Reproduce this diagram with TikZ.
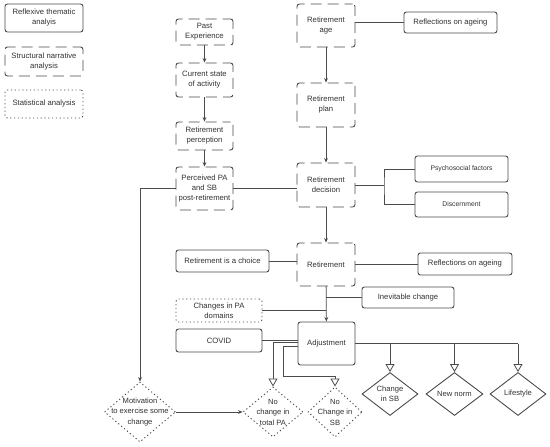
\documentclass[tikz,border=0pt]{standalone}
\usepackage{fontspec}
\setmainfont{Liberation Sans}
\usetikzlibrary{arrows.meta,shapes.geometric}
\definecolor{lc}{RGB}{75,75,75}
\definecolor{tc}{RGB}{50,50,50}
\tikzset{
  basebox/.style={draw=lc, line width=0.9pt, rounded corners=2.5pt, inner sep=1pt, align=center,
    text=tc, font=\fontsize{7.7}{10}\selectfont},
  solidbox/.style={basebox},
  dashbox/.style={basebox, dash pattern=on 11pt off 6pt, dash phase=3pt},
  dotbox/.style={basebox, dash pattern=on 1.2pt off 2.6pt},
  smallbox/.style={basebox, font=\fontsize{6.8}{9}\selectfont},
  basediamond/.style={shape=diamond, draw=lc, line width=0.9pt, inner sep=0pt, text=tc, align=center,
    font=\fontsize{7.6}{10.5}\selectfont},
  soliddiamond/.style={basediamond},
  dotdiamond/.style={basediamond, dash pattern=on 1.2pt off 2.6pt},
  dtext/.style={text=tc, align=center, inner sep=0pt, font=\fontsize{7.6}{10.5}\selectfont},
  conn/.style={draw=lc, line width=0.8pt},
  arr/.style={conn, -{Stealth[length=4.5pt,width=3.8pt]}},
  tri/.style={conn, -{Triangle[open,length=8pt,width=9pt,fill=white]}},
}
\begin{document}
\begin{tikzpicture}[x=1pt,y=-1pt]
\useasboundingbox (0,0) rectangle (550,447);
\fill[white] (0,0) rectangle (550,447);
% legend
\node[solidbox, minimum width=78, minimum height=28] (lg1) at (44,18) {Reflexive thematic\\analyis};
\node[dashbox, minimum width=78, minimum height=29] (lg2) at (44,61.5) {Structural narrative\\analysis};
\node[dotbox, minimum width=78, minimum height=28] (lg3) at (44,104) {Statistical analysis};
% column 1
\node[dashbox, minimum width=57, minimum height=26] (past) at (204.5,32) {Past\\Experience};
\node[dashbox, minimum width=57, minimum height=34] (current) at (204.5,80) {Current state\\of activity};
\node[dashbox, minimum width=57, minimum height=28] (percep) at (204.5,136) {Retirement\\perception};
\node[dashbox, minimum width=57, minimum height=43] (perceived) at (204.5,188.5) {Perceived PA\\and SB\\post-retirement};
% column 2
\node[dashbox, minimum width=58, minimum height=43] (retage) at (326,25.5) {Retirement\\age};
\node[dashbox, minimum width=58, minimum height=44] (retplan) at (326,105) {Retirement\\plan};
\node[dashbox, minimum width=58, minimum height=44] (retdec) at (326,185) {Retirement\\decision};
\node[dashbox, minimum width=58, minimum height=43] (retire) at (326,264.5) {Retirement};
\node[solidbox, minimum width=57, minimum height=43] (adjust) at (326.5,343.5) {Adjustment};
% side boxes
\node[solidbox, minimum width=93, minimum height=21] (refla) at (450.5,22.5) {Reflections on ageing};
\node[smallbox, minimum width=93, minimum height=26] (psycho) at (461.5,169) {Psychosocial factors};
\node[smallbox, minimum width=93, minimum height=25] (discern) at (461.5,204.5) {Discernment};
\node[solidbox, minimum width=93, minimum height=22] (choice) at (222.5,261) {Retirement is a choice};
\node[solidbox, minimum width=94, minimum height=22] (reflb) at (465,264) {Reflections on ageing};
\node[solidbox, minimum width=92, minimum height=21] (inevit) at (408,297.5) {Inevitable change};
\node[dotbox, minimum width=86, minimum height=23] (chpa) at (219,310.5) {Changes in PA\\domains};
\node[solidbox, minimum width=86, minimum height=23] (covid) at (219,340.5) {COVID};
% diamonds
\node[dotdiamond, minimum width=71, minimum height=60] (motiv) at (140,412) {};
\node[dtext] (motivt) at (motiv.center) {Motivation\\to exercise some\\change};
\node[dotdiamond, minimum width=60, minimum height=50] (ncpa) at (273,412) {};
\node[dtext] (ncpat) at (ncpa.center) {No\\change in\\total PA};
\node[dotdiamond, minimum width=54, minimum height=50] (ncsb) at (335,412) {};
\node[dtext] (ncsbt) at (ncsb.center) {No\\Change in\\SB};
\node[soliddiamond, minimum width=56, minimum height=43] (chsb) at (390,394) {};
\node[dtext] (chsbt) at (chsb.center) {Change\\in SB};
\node[soliddiamond, minimum width=57, minimum height=43] (newnorm) at (454.5,394) {};
\node[dtext] (newnormt) at (newnorm.center) {New norm};
\node[soliddiamond, minimum width=56, minimum height=43] (life) at (518,394) {};
\node[dtext] (lifet) at (life.center) {Lifestyle};
% connectors column 1
\draw[arr] (past) -- (current);
\draw[arr] (current) -- (percep);
\draw[arr] (percep) -- (perceived);
\draw[arr] (perceived.west) -| (motiv.north);
\draw[conn] (perceived.east) -- (perceived.east -| retdec.west);
% column 2
\draw[arr] (retage) -- (retplan);
\draw[arr] (retplan) -- (retdec);
\draw[arr] (retdec) -- (retire);
\draw[arr] (retire) -- (adjust);
\draw[conn] (refla.west) -- (refla.west -| retage.east);
\coordinate (br) at (384,185);
\draw[conn] (retdec.east) -- (br);
\draw[conn] (psycho.west) -| (br) |- (discern.west);
\draw[conn] (choice.east) -- (choice.east -| retire.west);
\draw[conn] (retire.east |- reflb.west) -- (reflb.west);
\draw[conn] (inevit.west) -- (inevit.west -| retire.south);
\draw[conn] (chpa.east) -- (chpa.east -| retire.south);
\draw[conn] (covid.east) -- (covid.east -| adjust.west);
% adjustment branches
\draw[conn] (adjust.east) -- (adjust.east -| life.north);
\draw[tri] (adjust.east -| chsb.north) -- (chsb.north);
\draw[tri] (adjust.east -| newnorm.north) -- (newnorm.north);
\draw[tri] (adjust.east -| life.north) -- (life.north);
\draw[tri] ([yshift=1.5pt]adjust.west) -| (ncpa.north);
\coordinate (bend) at (283,376);
\draw[tri] ([yshift=-2.5pt]adjust.west) -| (bend) -| (ncsb.north);
\draw[arr] (motiv.east) -- (ncpa.west);
\end{tikzpicture}
\end{document}
